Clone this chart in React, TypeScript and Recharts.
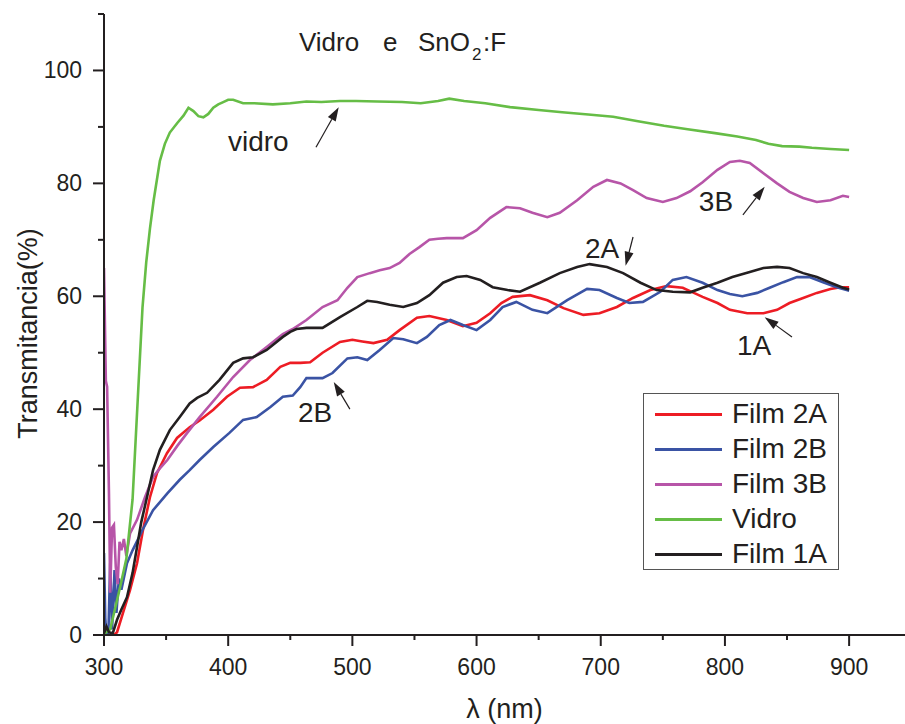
import React from 'react';
import { LineChart, Line, XAxis, YAxis, ReferenceDot, ReferenceLine, Legend } from 'recharts';

const FONT = '"Liberation Sans", Arial, Helvetica, sans-serif';
const INK = '#231f20';

// wavelength (nm), transmittance (%)
const vidro: [number, number][] = [
  [300, 0.2], [305, 1], [313, 8.5], [318, 13.5], [323, 24], [327, 41], [331, 58], [334, 66], [337, 72], [340, 77],
  [345, 84], [349, 87], [353, 89], [359, 90.7], [364, 92], [368, 93.4], [372, 92.8], [376, 91.9], [380, 91.7], [384, 92.3],
  [388, 93.4], [392, 94], [396, 94.4], [400, 94.8], [404, 94.8], [412, 94.2], [421, 94.2], [436, 94], [450, 94.2], [463, 94.5],
  [475, 94.4], [490, 94.6], [503, 94.6], [520, 94.5], [540, 94.4], [555, 94.2], [569, 94.6], [578, 95], [590, 94.6], [607, 94.2],
  [627, 93.5], [650, 93], [669, 92.6], [690, 92.2], [710, 91.8], [730, 91], [751, 90.2], [770, 89.6], [792, 88.9], [810, 88.3],
  [825, 87.7], [835, 87], [846, 86.6], [860, 86.5], [870, 86.3], [885, 86.1], [900, 85.9],
];

const film3B: [number, number][] = [
  [300, 65], [301.5, 45], [302.5, 44], [304, 25], [305, 7.5], [306.5, 19], [308, 19.5], [309.5, 12], [311, 9], [312.5, 16.5],
  [314, 15], [316, 17], [318, 14], [321, 18], [326.6, 20.4], [333, 24.4], [339.5, 28], [345, 29.5], [351, 31], [359, 33.5],
  [367, 35.8], [377, 38.6], [391, 42.2], [404, 45.7], [417.5, 48.7], [431, 51], [444, 53.3], [452, 54.2], [463, 55.8], [476, 58.1],
  [488, 59.3], [496, 61.5], [504, 63.4], [514, 64.1], [522, 64.6], [530, 65], [538, 65.9], [546, 67.5], [554, 68.7], [562, 70],
  [569, 70.2], [576, 70.3], [589, 70.3], [600, 71.7], [611, 73.9], [624, 75.8], [635, 75.6], [645, 74.8], [657, 74], [667, 74.8],
  [681, 77], [694, 79.4], [705, 80.6], [716, 80], [726, 78.8], [737, 77.4], [750, 76.7], [761, 77.4], [772, 78.6], [782, 80.2],
  [794, 82.4], [804, 83.8], [812, 84], [820, 83.6], [831, 81.8], [842, 80], [852, 78.5], [863, 77.4], [874, 76.7], [885, 77],
  [895, 77.8], [900, 77.6],
];

const film1A: [number, number][] = [
  [300, 0.3], [302, 1.5], [304, 0.5], [307, 0.3], [310.5, 2.7], [314, 4.5], [318.5, 6.7], [323, 11], [326.6, 15.6], [330, 20],
  [334.6, 24.4], [339.5, 29.2], [345, 32.8], [353, 36.3], [361, 38.6], [369, 41], [375, 42], [383, 42.9], [393, 45.2], [404, 48.2],
  [412, 49], [420, 49.2], [431, 50.5], [444, 52.8], [450, 53.7], [455, 54.2], [463, 54.4], [476, 54.4], [490, 56.3], [504, 58.1],
  [512, 59.2], [520, 59], [530, 58.5], [541, 58.1], [552, 58.8], [562, 60.2], [573, 62.4], [584, 63.4], [592, 63.6], [603, 62.9],
  [613, 61.6], [625, 61.1], [635, 60.8], [651, 62.4], [667, 64.1], [681, 65.2], [691, 65.7], [705, 65.2], [718, 64.1], [732, 62.4],
  [745, 61.1], [758, 60.8], [772, 60.7], [782, 61.5], [794, 62.4], [806, 63.4], [820, 64.3], [831, 65], [842, 65.2], [852, 65],
  [863, 64.1], [874, 63.4], [885, 62.4], [895, 61.5], [900, 61.2],
];

const film2A: [number, number][] = [
  [308, 0], [310.5, 0.5], [315.3, 3.9], [321, 8], [326.6, 12.7], [331.4, 18.6], [337, 24.4], [342.7, 28.7], [350.7, 32.2], [358.8, 34.9],
  [369, 36.8], [377, 38], [388, 39.9], [399, 42.2], [409.5, 43.8], [420, 43.9], [431, 45.2], [442, 47.5], [450, 48.2], [458, 48.2],
  [466, 48.3], [476, 50], [490, 51.9], [500, 52.3], [508, 52], [517, 51.7], [528, 52.3], [538, 54], [552, 56.2], [562, 56.5],
  [576, 55.8], [589, 54.7], [600, 55.3], [611, 57], [620, 58.8], [629, 59.9], [643, 60.2], [657, 59.3], [670, 57.9], [686, 56.7],
  [699, 57], [713, 58.1], [726, 59.7], [740, 61.1], [753, 61.8], [766, 61.5], [775, 60.6], [782, 59.9], [794, 58.8], [804, 57.6],
  [818, 57], [831, 57], [842, 57.6], [852, 58.8], [863, 59.7], [874, 60.6], [885, 61.3], [893, 61.6], [900, 61.6],
];

const film2B: [number, number][] = [
  [300, 14.5], [301, 3], [302, 0], [303.5, 0], [305, 12.7], [306.5, 1], [308.5, 11.5], [310, 3.9], [312, 10], [314, 8],
  [318.5, 12.7], [323, 15], [331, 18.6], [339.5, 22.1], [351, 25.1], [361, 27.5], [369, 29.2], [377, 31], [388, 33.3], [401, 35.8],
  [412, 38.1], [423, 38.6], [434, 40.4], [444, 42.2], [452, 42.4], [458, 43.9], [463, 45.5], [476, 45.5], [484, 46.4], [496, 49],
  [504, 49.2], [512, 48.7], [522, 50.5], [533, 52.6], [541, 52.4], [552, 51.7], [560, 52.8], [570, 54.9], [579, 55.8], [589, 54.9],
  [600, 54], [611, 55.8], [621, 58.1], [632, 59], [645, 57.6], [657, 57], [673, 59.3], [689, 61.3], [699, 61.1], [713, 59.7],
  [723, 58.8], [734, 59], [748, 60.8], [758, 62.9], [769, 63.4], [782, 62.4], [794, 61.1], [804, 60.4], [814, 60], [826, 60.6],
  [836, 61.5], [847, 62.5], [858, 63.4], [868, 63.4], [879, 62.5], [890, 61.6], [898, 61.1], [900, 61],
];

const xTicks = [300, 350, 400, 450, 500, 550, 600, 650, 700, 750, 800, 850, 900];
const xMajor = [300, 400, 500, 600, 700, 800, 900];
const yTicks = [0, 10, 20, 30, 40, 50, 60, 70, 80, 90, 100, 110];
const yMajor = [0, 20, 40, 60, 80, 100];

const series = [
  { name: 'Film 2A', color: '#ED1C24', points: film2A },
  { name: 'Film 2B', color: '#3A53A4', points: film2B },
  { name: 'Film 3B', color: '#B755A8', points: film3B },
  { name: 'Vidro', color: '#66BD46', points: vidro },
  { name: 'Film 1A', color: '#231F20', points: film1A },
];

const notes = [
  { text: 'vidro', wl: 399.8, t: 85.7 },
  { text: '3B', wl: 779, t: 75.1 },
  { text: '2A', wl: 687.3, t: 66.8 },
  { text: '1A', wl: 809.7, t: 49.6 },
  { text: '2B', wl: 456.2, t: 37.7 },
];

const arrows = [
  { from: [470.7, 86.4], to: [489, 93.5] },
  { from: [814.5, 74.4], to: [832, 79.4] },
  { from: [726, 70.5], to: [720, 65.4] },
  { from: [854, 52.8], to: [832, 56.3] },
  { from: [498, 40], to: [485, 44.8] },
];

const title = { wl: 457, t: 103.45 };

const XTick = (props: any) => {
  const { x, y, payload } = props;
  const major = xMajor.includes(payload.value);
  return (
    <g>
      <line x1={x} x2={x} y1={y} y2={y + (major ? 11 : 5)} stroke={INK} strokeWidth={2} />
      {major && (
        <text x={x} y={y + 40} textAnchor="middle" fontSize={23} fontFamily={FONT} fill={INK}>
          {payload.value}
        </text>
      )}
    </g>
  );
};

const YTick = (props: any) => {
  const { x, y, payload } = props;
  const major = yMajor.includes(payload.value);
  return (
    <g>
      <line x1={x} x2={x - (major ? 11 : 6)} y1={y} y2={y} stroke={INK} strokeWidth={2} />
      {major && (
        <text x={x - 22} y={y + 8} textAnchor="end" fontSize={23} fontFamily={FONT} fill={INK}>
          {payload.value}
        </text>
      )}
    </g>
  );
};

const YTitle = (props: any) => {
  const vb = props.viewBox || { x: 0, y: 14, width: 104, height: 621 };
  const cx = vb.x + 37;
  const cy = vb.y + vb.height / 2 + 9;
  return (
    <text x={cx} y={cy} transform={`rotate(-90, ${cx}, ${cy})`} textAnchor="middle" fontSize={27} fontFamily={FONT} fill={INK}>
      Transmitancia(%)
    </text>
  );
};

const XTitle = (props: any) => {
  const vb = props.viewBox || { x: 104, y: 635, width: 801, height: 89 };
  return (
    <text x={vb.x + vb.width / 2} y={vb.y + 83} textAnchor="middle" fontSize={27} fontFamily={FONT} fill={INK}>
      λ (nm)
    </text>
  );
};

const Arrow = (props: any) => {
  const { x1, y1, x2, y2 } = props;
  const dx = x2 - x1;
  const dy = y2 - y1;
  const len = Math.sqrt(dx * dx + dy * dy) || 1;
  const ux = dx / len;
  const uy = dy / len;
  const hl = 14;
  const hw = 4.5;
  const bx = x2 - ux * hl;
  const by = y2 - uy * hl;
  return (
    <g>
      <line x1={x1} y1={y1} x2={bx} y2={by} stroke={INK} strokeWidth={1.2} />
      <polygon
        points={`${x2},${y2} ${bx - uy * hw},${by + ux * hw} ${bx + uy * hw},${by - ux * hw}`}
        fill={INK}
      />
    </g>
  );
};

const LegendBox = () => (
  <div
    style={{
      width: 196,
      height: 177,
      border: '1.5px solid #555',
      boxSizing: 'border-box',
      background: '#fff',
      position: 'relative',
      fontFamily: FONT,
    }}
  >
    {series.map((s, i) => (
      <div
        key={s.name}
        style={{ position: 'absolute', left: 0, top: 3 + 35 * i, height: 34, display: 'flex', alignItems: 'center' }}
      >
        <div style={{ width: 67, height: 3, background: s.color, marginLeft: 11 }} />
        <span style={{ marginLeft: 10, fontSize: 28, lineHeight: '34px', color: INK, whiteSpace: 'nowrap' }}>{s.name}</span>
      </div>
    ))}
  </div>
);

export default function App() {
  return (
    <div style={{ position: 'absolute', left: 0, top: 0, width: 905, height: 724, background: '#fff' }}>
      <LineChart width={905} height={724} margin={{ top: 14, right: 0, bottom: 0, left: 0 }}>
        <XAxis
          dataKey="wl"
          type="number"
          domain={[300, 945]}
          allowDataOverflow
          ticks={xTicks}
          interval={0}
          tick={<XTick />}
          tickLine={false}
          tickSize={0}
          tickMargin={0}
          height={89}
          axisLine={{ stroke: INK, strokeWidth: 2 }}
          label={<XTitle />}
        />
        <YAxis
          type="number"
          domain={[0, 110]}
          allowDataOverflow
          ticks={yTicks}
          interval={0}
          tick={<YTick />}
          tickLine={false}
          tickSize={0}
          tickMargin={0}
          width={104}
          axisLine={{ stroke: INK, strokeWidth: 2 }}
          label={<YTitle />}
        />
        {series.map((s) => (
          <Line
            key={s.name}
            name={s.name}
            data={s.points.map(([wl, t]) => ({ wl, t }))}
            dataKey="t"
            type="linear"
            stroke={s.color}
            strokeWidth={2.6}
            dot={false}
            activeDot={false}
            isAnimationActive={false}
          />
        ))}
        {arrows.map((a, i) => (
          <ReferenceLine
            key={'a' + i}
            segment={[
              { x: a.from[0], y: a.from[1] },
              { x: a.to[0], y: a.to[1] },
            ]}
            shape={(p: any) => <Arrow {...p} />}
          />
        ))}
        {notes.map((n) => (
          <ReferenceDot
            key={n.text}
            x={n.wl}
            y={n.t}
            r={0}
            shape={(p: any) => (
              <text x={p.cx} y={p.cy} fontSize={28} fontFamily={FONT} fill={INK}>
                {n.text}
              </text>
            )}
          />
        ))}
        <ReferenceDot
          x={title.wl}
          y={title.t}
          r={0}
          shape={(p: any) => (
            <text y={p.cy} fontSize={26} fontFamily={FONT} fill={INK}>
              <tspan x={p.cx}>Vidro</tspan>
              <tspan x={p.cx + 84}>e</tspan>
              <tspan x={p.cx + 119}>SnO</tspan>
              <tspan x={p.cx + 173} dy={9} fontSize={17}>2</tspan>
              <tspan x={p.cx + 184} dy={-9}>:F</tspan>
            </text>
          )}
        />
        <Legend
          layout="vertical"
          align="center"
          verticalAlign="middle"
          wrapperStyle={{ left: 643, top: 393, width: 196, height: 177 }}
          content={() => <LegendBox />}
        />
      </LineChart>
    </div>
  );
}
